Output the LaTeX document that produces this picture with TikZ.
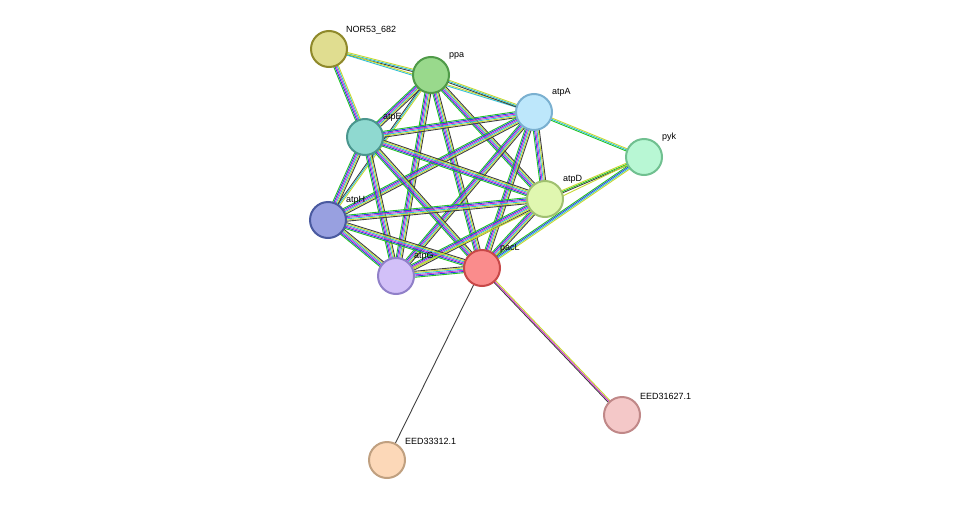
\documentclass[tikz,border=0pt]{standalone}
\usepackage{fontspec}
\setmainfont{Liberation Sans}
\usetikzlibrary{calc,backgrounds}
\definecolor{lgreen}{HTML}{22C322}
\definecolor{lblue}{HTML}{3040E0}
\definecolor{lmag}{HTML}{D030D0}
\definecolor{lcyan}{HTML}{30C0D8}
\definecolor{lyel}{HTML}{C8D830}
\definecolor{lblack}{HTML}{404040}
\newcommand{\sfull}{-3/lgreen,-1.8/lblue,-0.6/lmag,0.6/lcyan,1.8/lyel,3/lblack}
\newcommand{\bund}[3]{%
  \edef\bundlist{#3}%
  \foreach \o/\c in \bundlist{%
    \draw[\c, line width=0.9pt] ($(#1.center)!\o pt!90:(#2.center)$) -- ($(#2.center)!\o pt!-90:(#1.center)$);}}

\begin{document}
\begin{tikzpicture}[x=1pt,y=-1pt,
  prot/.style={circle, minimum size=36pt, line width=2pt, inner sep=0pt},
  lab/.style={font=\small, anchor=south west, inner sep=1pt}]
  \useasboundingbox (0,0) rectangle (976,506);
  % proteins
  \node[prot, draw=olive!70!gray, fill={rgb,255:red,224;green,221;blue,144}] (nor) at (329,49) {};
  \node[prot, draw={rgb,255:red,79;green,154;blue,72}, fill={rgb,255:red,153;green,217;blue,140}] (ppa) at (431,75) {};
  \node[prot, draw={rgb,255:red,122;green,176;blue,208}, fill={rgb,255:red,189;green,231;blue,251}] (atpA) at (534,112) {};
  \node[prot, draw={rgb,255:red,74;green,150;blue,142}, fill={rgb,255:red,143;green,217;blue,208}] (atpE) at (365,137) {};
  \node[prot, draw={rgb,255:red,112;green,192;blue,144}, fill={rgb,255:red,184;green,247;blue,212}] (pyk) at (644,157) {};
  \node[prot, draw={rgb,255:red,160;green,192;blue,112}, fill={rgb,255:red,224;green,247;blue,176}] (atpD) at (545,199) {};
  \node[prot, draw={rgb,255:red,74;green,90;blue,160}, fill={rgb,255:red,152;green,160;blue,224}] (atpH) at (328,220) {};
  \node[prot, draw={rgb,255:red,144;green,128;blue,200}, fill={rgb,255:red,210;green,192;blue,248}] (atpG) at (396,276) {};
  \node[prot, draw={rgb,255:red,200;green,72;blue,72}, fill={rgb,255:red,250;green,140;blue,140}] (pacL) at (482,268) {};
  \node[prot, draw={rgb,255:red,192;green,136;blue,136}, fill={rgb,255:red,244;green,200;blue,200}] (eedA) at (622,415) {};
  \node[prot, draw={rgb,255:red,192;green,160;blue,128}, fill={rgb,255:red,252;green,216;blue,184}] (eedB) at (387,460) {};
  % labels
  \node[lab] at (345,35) {NOR53\_682};
  \node[lab] at (448,61) {ppa};
  \node[lab] at (551,98) {atpA};
  \node[lab] at (382,123) {atpE};
  \node[lab] at (661,143) {pyk};
  \node[lab] at (562,185) {atpD};
  \node[lab] at (345,206) {atpH};
  \node[lab] at (413,262) {atpG};
  \node[lab] at (499,254) {pacL};
  \node[lab] at (639,401) {EED31627.1};
  \node[lab] at (404,446) {EED33312.1};
  % links
  \begin{scope}[on background layer]
    \bund{nor}{ppa}{-1.2/lblack,0/lcyan,1.2/lyel}
    \bund{nor}{atpA}{-0.6/lcyan,0.6/lyel}
    \bund{nor}{atpE}{-2.4/lgreen,-1.2/lblue,0/lmag,1.2/lcyan,2.4/lyel}
    \bund{ppa}{atpA}{-1.2/lblack,0/lcyan,1.2/lyel}
    \bund{ppa}{atpH}{-1.2/lblack,0/lcyan,1.2/lyel}
    \foreach \a/\b in {ppa/atpE,ppa/atpG,ppa/pacL,ppa/atpD,atpA/atpE,atpA/atpH,
      atpA/atpG,atpA/pacL,atpA/atpD,atpE/atpD,atpE/atpH,atpE/atpG,atpE/pacL,
      atpD/atpH,atpD/atpG,atpD/pacL,atpH/atpG,atpH/pacL,atpG/pacL}
      {\bund{\a}{\b}{\sfull}}
    \bund{atpA}{pyk}{-1.2/lgreen,0/lcyan,1.2/lyel}
    \bund{atpD}{pyk}{-1.2/lblack,0/lgreen,1.2/lyel}
    \bund{pyk}{pacL}{-1.8/lgreen,-0.6/lblue,0.6/lcyan,1.8/lyel}
    \bund{pyk}{atpG}{0/lyel}
    \bund{pacL}{eedA}{-1.2/lblack,0/lmag,1.2/lyel}
    \bund{pacL}{eedB}{0/lblack}
  \end{scope}
\end{tikzpicture}
\end{document}
